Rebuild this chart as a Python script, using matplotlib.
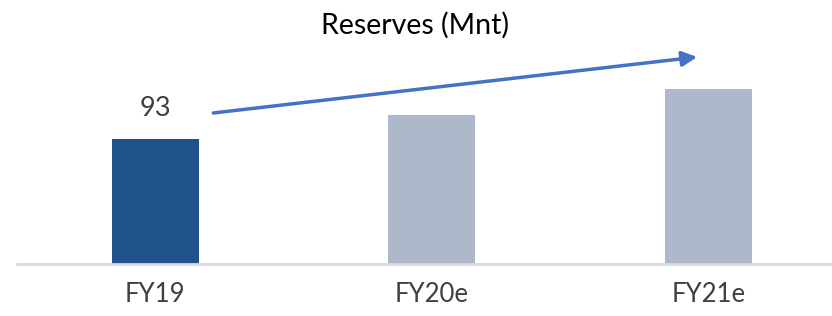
import matplotlib
matplotlib.use('Agg')
import matplotlib.pyplot as plt

categories = ['FY19', 'FY20e', 'FY21e']
reserves = [93, 111, 130]
bar_colors = ['#1F5288', '#ADB9CA', '#ADB9CA']

plt.rcParams['font.family'] = ['Lato', 'DejaVu Sans']

fig = plt.figure(figsize=(8.32, 3.16), dpi=100)
# axes placed so the category slots line up with the reference
ax = fig.add_axes([17/832, 1 - 263.5/316, 829.5/832, 253.5/316])

x = list(range(len(categories)))
ax.bar(x, reserves, width=0.315, color=bar_colors, zorder=2)
ax.set_xlim(-0.5, 2.5)
ax.set_ylim(0, 189.3)

for side in ['top', 'right', 'left']:
    ax.spines[side].set_visible(False)
ax.spines['bottom'].set_color('#D9D9D9')
ax.spines['bottom'].set_linewidth(2)
ax.set_yticks([])
ax.set_xticks(x)
ax.set_xticklabels(categories, fontsize=18.5, color='#404040')
ax.tick_params(axis='x', length=0, pad=13)

# only the first bar is labelled
ax.text(x[0], reserves[0] + 23, str(reserves[0]), ha='center', va='center',
        fontsize=19.5, color='#404040')

ax.annotate('', xy=(1.96, 154.2), xytext=(0.21, 112.4),
            arrowprops=dict(arrowstyle='-|>,head_length=0.9,head_width=0.45',
                            color='#4472C4', lw=2.5, shrinkA=0, shrinkB=0))

fig.text(415/832, 1 - 25/316, 'Reserves (Mnt)', ha='center', va='center',
         fontsize=20.5, color='#000000')

fig.savefig('out.png', dpi=100)
